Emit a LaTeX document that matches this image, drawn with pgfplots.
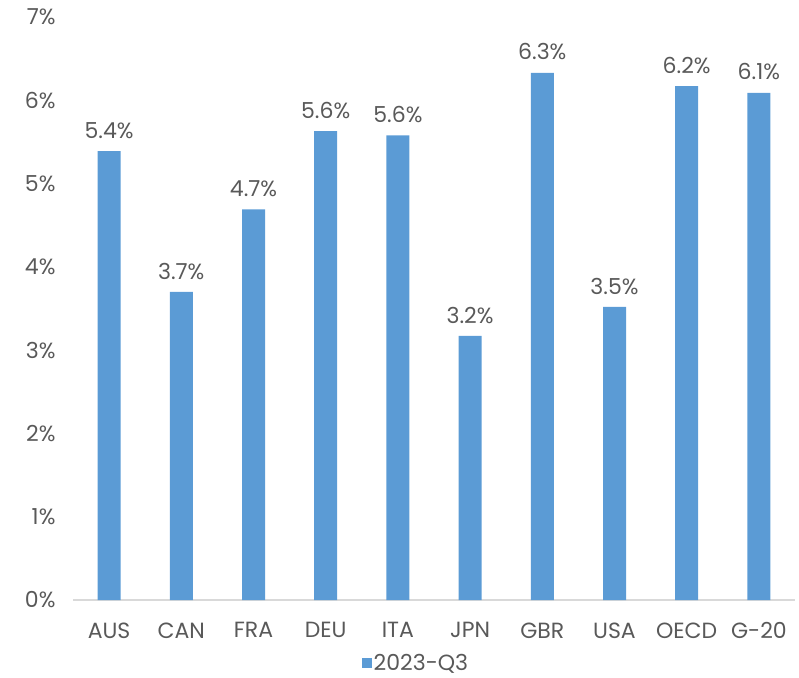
\documentclass[border=0pt]{standalone}
\usepackage{fontspec}
\setmainfont{Poppins}
\usepackage{pgfplots}
\pgfplotsset{compat=1.18}
\definecolor{barblue}{HTML}{5B9BD5}
\definecolor{txtgrey}{HTML}{595959}
\definecolor{axgrey}{HTML}{D9D9D9}
\begin{document}
\begin{tikzpicture}[x=1pt,y=1pt]
\path[use as bounding box] (-73,-77) rectangle (726,600);
\begin{axis}[
  at={(0,0)}, anchor=south west,
  scale only axis, width=722pt, height=583pt,
  xmin=-0.5, xmax=9.5, ymin=0, ymax=7,
  xtick={0,...,9},
  xticklabels={AUS,CAN,FRA,DEU,ITA,JPN,GBR,USA,OECD,G-20},
  ytick={0,...,7},
  yticklabel={\pgfmathprintnumber{\tick}\%},
  /pgf/number format/assume math mode=true,
  major tick length=0pt,
  axis y line*=left,
  axis x line*=bottom,
  y axis line style={draw=none},
  x axis line style={draw=axgrey, line width=1.2pt, -},
  axis line style={-},
  ticklabel style={font=\fontsize{22}{25}\selectfont, text=txtgrey},
  yticklabel style={xshift=-14pt},
  xticklabel style={yshift=-19pt},
  ybar, bar width=23pt,
  nodes near coords={\pgfmathprintnumber[fixed,precision=1,zerofill]{\pgfplotspointmeta}\%},
  nodes near coords style={font=\fontsize{22}{25}\selectfont, text=txtgrey, anchor=south, yshift=9pt, /pgf/number format/assume math mode=true},
  legend style={at={(0.475,-0.108)}, anchor=center, draw=none, font=\fontsize{22}{25}\selectfont, text=txtgrey, inner sep=0pt},
  legend image code/.code={\fill[barblue] (0pt,-5pt) rectangle (10pt,5pt);},
  clip=false,
]
\addplot[fill=barblue, draw=none] coordinates {
(0,5.39) (1,3.70) (2,4.69) (3,5.63) (4,5.58) (5,3.17) (6,6.33) (7,3.52) (8,6.17) (9,6.09)};
\addlegendentry{2023-Q3}
\end{axis}
\end{tikzpicture}
\end{document}
